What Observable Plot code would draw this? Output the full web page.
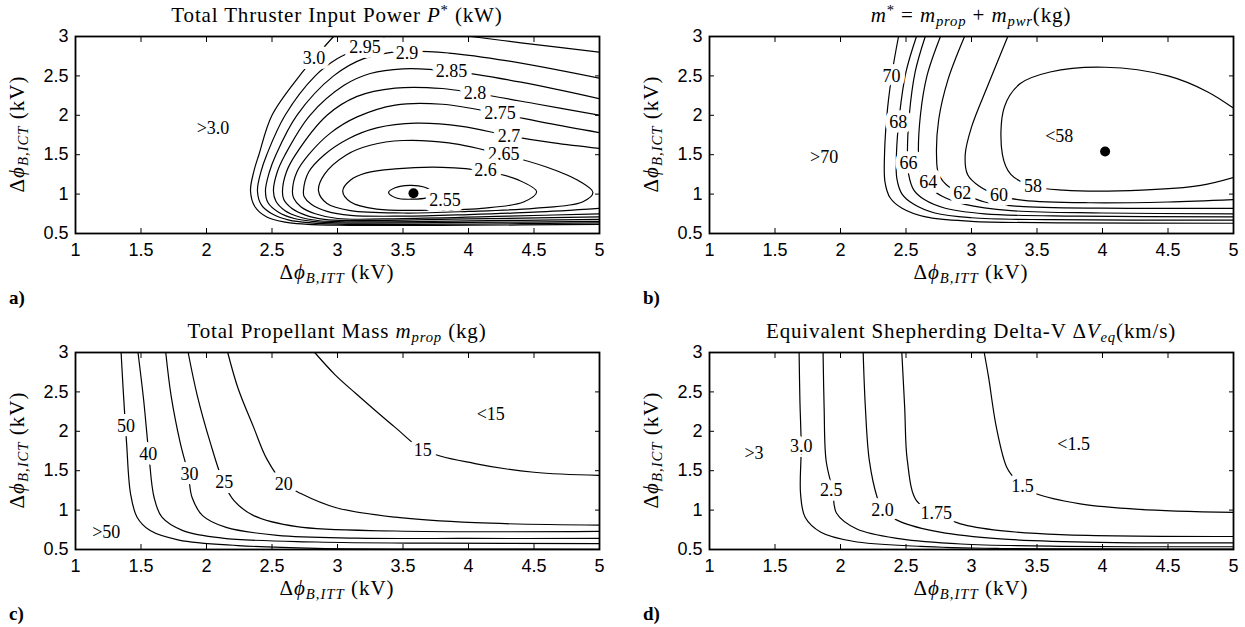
<!DOCTYPE html>
<html><head><meta charset="utf-8">
<script src="https://cdn.jsdelivr.net/npm/d3@7"></script>
<script src="https://cdn.jsdelivr.net/npm/@observablehq/plot@0.6"></script>
<style>
body{margin:0;background:#fff;}
#root{position:relative;width:1245px;height:627px;overflow:hidden;background:#fff;}
.panel{position:absolute;width:620px;height:311px;}
.panel svg{position:absolute;left:0;top:0;overflow:visible;}
.panel svg g[aria-label$="tick label"]{font-size:18px !important;font-family:"Liberation Sans",Arial,sans-serif;}
.title,.xlab,.ylab,.tag{position:absolute;font-family:"Liberation Serif","DejaVu Serif",serif;color:#000;white-space:nowrap;}
.title{left:55px;width:564px;top:3px;text-align:center;font-size:21px;line-height:24px;letter-spacing:0.85px;}
.xlab{left:75px;width:524px;top:260px;text-align:center;font-size:21px;line-height:24px;letter-spacing:1px;}
.ylab{left:-103px;top:122px;width:240px;text-align:center;font-size:21px;line-height:24px;letter-spacing:1px;transform:rotate(-90deg);}
.tag{left:9px;top:287px;font-size:19px;font-weight:bold;line-height:22px;}
sub{font-size:70%;vertical-align:-0.3em;line-height:0;}
sup{font-size:70%;vertical-align:0.45em;line-height:0;}
</style>
</head><body>
<div id="root"></div>
<script>
const xTicks = [1, 1.5, 2, 2.5, 3, 3.5, 4, 4.5, 5];
const yTicks = [0.5, 1, 1.5, 2, 2.5, 3];

// Panel a: total thruster input power P* (kW)
const powerOpen = [
  {level: "3.0", pts: [[5,0.615],[4,0.605],[3,0.605],[2.75,0.62],[2.6,0.645],[2.46,0.71],[2.37,0.84],[2.336,1.04],[2.36,1.28],[2.40,1.5],[2.50,2.0],[2.71,2.5],[2.82,2.72],[2.97,3.0]]},
  {level: "2.95", pts: [[5,0.635],[4,0.62],[3,0.62],[2.8,0.635],[2.63,0.67],[2.51,0.74],[2.42,0.86],[2.389,1.04],[2.415,1.28],[2.46,1.5],[2.60,2.0],[2.83,2.5],[3.0,2.72],[3.21,2.88],[3.36,3.0]]},
  {level: "2.95", pts: [[4.02,3.0],[4.4,2.92],[5,2.80]]},
  {level: "2.9", pts: [[5,0.655],[4,0.64],[3,0.635],[2.83,0.65],[2.67,0.69],[2.55,0.77],[2.47,0.89],[2.45,1.04],[2.48,1.28],[2.53,1.5],[2.69,2.0],[2.97,2.5],[3.2,2.72],[3.5,2.81],[3.85,2.79],[4.3,2.69],[5,2.47]]},
  {level: "2.85", pts: [[5,0.68],[4,0.66],[3,0.65],[2.85,0.665],[2.71,0.71],[2.6,0.79],[2.53,0.91],[2.511,1.04],[2.54,1.28],[2.60,1.5],[2.79,2.0],[3.05,2.38],[3.25,2.53],[3.5,2.59],[3.87,2.56],[4.4,2.42],[5,2.21]]},
  {level: "2.8", pts: [[5,0.71],[4,0.685],[3.1,0.665],[2.9,0.68],[2.76,0.73],[2.65,0.82],[2.59,0.93],[2.58,1.04],[2.61,1.28],[2.68,1.5],[2.92,2.0],[3.15,2.24],[3.44,2.345],[3.8,2.34],[4.05,2.28],[4.5,2.15],[5,2.0]]},
  {level: "2.75", pts: [[5,0.75],[4.3,0.72],[3.5,0.69],[3.0,0.69],[2.83,0.75],[2.72,0.84],[2.665,0.95],[2.656,1.04],[2.69,1.28],[2.78,1.5],[2.95,1.78],[3.15,1.98],[3.44,2.13],[3.8,2.14],[4.24,2.02],[4.6,1.90],[5,1.78]]},
  {level: "2.7", pts: [[5,0.82],[4.5,0.77],[4,0.74],[3.5,0.72],[3.1,0.73],[2.92,0.78],[2.8,0.87],[2.745,0.97],[2.74,1.04],[2.78,1.28],[2.90,1.5],[3.08,1.70],[3.3,1.84],[3.6,1.90],[3.95,1.86],[4.31,1.74],[4.65,1.65],[5,1.58]]}
];
const powerClosed = [
  {level: "2.65", pts: [[2.855,1.04],[2.90,1.25],[3.07,1.5],[3.25,1.62],[3.5,1.68],[3.85,1.65],[4.27,1.50],[4.6,1.34],[4.85,1.16],[4.95,1.02],[4.87,0.90],[4.5,0.82],[4.0,0.78],[3.5,0.76],[3.1,0.79],[2.92,0.88]]},
  {level: "2.6", pts: [[3.04,1.04],[3.10,1.18],[3.22,1.27],[3.44,1.32],[3.8,1.34],[4.13,1.29],[4.38,1.18],[4.52,1.03],[4.42,0.90],[4.1,0.82],[3.7,0.795],[3.3,0.81],[3.1,0.90]]},
  {level: "2.55", pts: [[3.39,1.02],[3.44,1.08],[3.55,1.11],[3.66,1.09],[3.73,1.02],[3.68,0.955],[3.56,0.935],[3.45,0.95]]}
];
const powerLabels = [
  {t:"3.0",x:2.82,y:2.72},{t:"2.95",x:3.21,y:2.86},{t:"2.9",x:3.53,y:2.79},{t:"2.85",x:3.87,y:2.56},
  {t:"2.8",x:4.05,y:2.28},{t:"2.75",x:4.24,y:2.02},{t:"2.7",x:4.31,y:1.74},{t:"2.65",x:4.27,y:1.50},
  {t:"2.6",x:4.13,y:1.30},{t:"2.55",x:3.82,y:0.92},{t:">3.0",x:2.05,y:1.83}
];
const powerOptimum = [{x:3.58,y:1.01}];

// Panel b: m* = m_prop + m_pwr (kg)
const massOpen = [
  {level:"70", pts:[[2.443,3.0],[2.40,2.6],[2.36,2.1],[2.336,1.5],[2.34,1.15],[2.38,0.95],[2.47,0.82],[2.65,0.71],[3.0,0.655],[3.7,0.635],[5,0.63]]},
  {level:"68", pts:[[2.58,3.0],[2.50,2.55],[2.45,2.0],[2.427,1.5],[2.43,1.2],[2.47,1.0],[2.56,0.87],[2.72,0.76],[3.0,0.70],[3.6,0.675],[5,0.67]]},
  {level:"66", pts:[[2.647,3.0],[2.57,2.55],[2.525,2.0],[2.511,1.5],[2.52,1.25],[2.56,1.05],[2.64,0.93],[2.8,0.82],[3.1,0.75],[3.8,0.72],[5,0.71]]},
  {level:"64", pts:[[2.763,3.0],[2.66,2.5],[2.61,2.0],[2.595,1.5],[2.61,1.25],[2.67,1.10],[2.78,0.97],[2.95,0.87],[3.3,0.79],[4,0.76],[5,0.75]]},
  {level:"62", pts:[[2.947,3.0],[2.82,2.45],[2.75,1.95],[2.733,1.5],[2.75,1.25],[2.83,1.09],[2.93,1.01],[3.1,0.90],[3.4,0.84],[4.2,0.82],[5,0.82]]},
  {level:"60", pts:[[3.277,3.0],[3.13,2.4],[3.0,1.85],[2.952,1.5],[2.97,1.25],[3.06,1.10],[3.21,0.98],[3.4,0.92],[3.9,0.89],[4.5,0.90],[5,0.93]]},
  {level:"58", pts:[[5,2.09],[4.8,2.3],[4.5,2.5],[4.02,2.61],[3.6,2.55],[3.37,2.4],[3.25,2.1],[3.236,1.5],[3.3,1.25],[3.47,1.10],[3.7,1.05],[4.3,1.05],[4.75,1.11],[5,1.21]]}
];
const massLabels = [
  {t:"70",x:2.39,y:2.49},{t:"68",x:2.44,y:1.91},{t:"66",x:2.52,y:1.39},{t:"64",x:2.67,y:1.15},
  {t:"62",x:2.93,y:1.01},{t:"60",x:3.21,y:0.98},{t:"58",x:3.47,y:1.10},{t:">70",x:1.875,y:1.47},{t:"<58",x:3.67,y:1.73}
];
const massOptimum = [{x:4.02,y:1.54}];

// Panel c: total propellant mass m_prop (kg)
const propOpen = [
  {level:"50", pts:[[1.348,3.0],[1.365,2.5],[1.39,1.85],[1.42,1.21],[1.47,0.91],[1.57,0.74],[1.79,0.62],[2.24,0.55],[2.84,0.515],[4,0.505],[5,0.503]]},
  {level:"40", pts:[[1.477,3.0],[1.52,2.4],[1.56,1.71],[1.60,1.16],[1.66,0.91],[1.82,0.74],[2.12,0.645],[2.84,0.595],[3.75,0.58],[5,0.575]]},
  {level:"30", pts:[[1.689,3.0],[1.73,2.45],[1.80,1.85],[1.86,1.46],[1.89,1.16],[1.97,0.93],[2.15,0.78],[2.54,0.68],[3.14,0.645],[4,0.64],[5,0.64]]},
  {level:"25", pts:[[1.860,3.0],[1.93,2.45],[2.03,1.85],[2.13,1.35],[2.21,1.12],[2.36,0.93],[2.69,0.79],[3.44,0.735],[5,0.73]]},
  {level:"20", pts:[[2.162,3.0],[2.24,2.55],[2.36,2.05],[2.46,1.65],[2.59,1.34],[2.72,1.21],[2.99,1.03],[3.44,0.91],[4.05,0.84],[5,0.81]]},
  {level:"15", pts:[[2.826,3.0],[2.98,2.72],[3.14,2.48],[3.44,2.05],[3.66,1.76],[4.05,1.59],[4.50,1.48],[5,1.44]]}
];
const propLabels = [
  {t:"50",x:1.385,y:2.07},{t:"40",x:1.556,y:1.71},{t:"30",x:1.87,y:1.46},{t:"25",x:2.135,y:1.35},
  {t:"20",x:2.59,y:1.33},{t:"15",x:3.65,y:1.76},{t:"<15",x:4.17,y:2.22},{t:">50",x:1.235,y:0.72}
];

// Panel d: equivalent shepherding delta-V (km/s)
const dvOpen = [
  {level:"3.0", pts:[[1.684,3.0],[1.69,2.4],[1.70,1.80],[1.695,1.21],[1.73,0.91],[1.85,0.72],[2.095,0.605],[2.61,0.54],[3.22,0.513],[4,0.507],[5,0.505]]},
  {level:"2.5", pts:[[1.867,3.0],[1.875,2.3],[1.89,1.63],[1.94,1.25],[1.97,0.96],[2.125,0.76],[2.46,0.635],[2.92,0.57],[3.68,0.54],[5,0.535]]},
  {level:"2.0", pts:[[2.173,3.0],[2.19,2.3],[2.22,1.63],[2.28,1.16],[2.32,1.00],[2.46,0.85],[2.76,0.72],[3.22,0.635],[3.98,0.59],[5,0.585]]},
  {level:"1.75", pts:[[2.468,3.0],[2.49,2.3],[2.51,1.63],[2.58,1.12],[2.73,0.96],[2.916,0.826],[3.22,0.74],[3.68,0.69],[5,0.665]]},
  {level:"1.5", pts:[[3.097,3.0],[3.13,2.69],[3.19,2.05],[3.27,1.54],[3.34,1.38],[3.39,1.31],[3.49,1.21],[3.83,1.08],[4.28,1.01],[5,0.97]]}
];
const dvLabels = [
  {t:"3.0",x:1.70,y:1.81},{t:"2.5",x:1.93,y:1.25},{t:"2.0",x:2.32,y:0.995},{t:"1.75",x:2.73,y:0.96},
  {t:"1.5",x:3.39,y:1.30},{t:">3",x:1.34,y:1.72},{t:"<1.5",x:3.78,y:1.84}
];

const xLabelHTML = 'Δ<i>ϕ</i><sub><i>B,ITT</i></sub> (kV)';
const yLabelHTML = 'Δ<i>ϕ</i><sub><i>B,ICT</i></sub> (kV)';

const panels = [
  {left:0, top:0, tag:"a)", title:'Total Thruster Input Power <i>P</i><sup>*</sup> (kW)', open:powerOpen, closed:powerClosed, labels:powerLabels, dots:powerOptimum},
  {left:634, top:0, tag:"b)", title:'<i>m</i><sup>*</sup> = <i>m</i><sub><i>prop</i></sub> + <i>m</i><sub><i>pwr</i></sub>(kg)', open:massOpen, closed:[], labels:massLabels, dots:massOptimum},
  {left:0, top:316, tag:"c)", title:'Total Propellant Mass <i>m</i><sub><i>prop</i></sub> (kg)', open:propOpen, closed:[], labels:propLabels, dots:[]},
  {left:634, top:316, tag:"d)", title:'Equivalent Shepherding Delta-V Δ<i>V</i><sub><i>eq</i></sub>(km/s)', open:dvOpen, closed:[], labels:dvLabels, dots:[]}
];

function rows(contours) {
  const out = [];
  contours.forEach((c, i) => c.pts.forEach(([x, y]) => out.push({id: i, level: c.level, x, y})));
  return out;
}

const root = document.getElementById("root");
for (const p of panels) {
  const div = document.createElement("div");
  div.className = "panel";
  div.style.left = p.left + "px";
  div.style.top = p.top + "px";
  const svg = Plot.plot({
    width: 620, height: 260,
    marginLeft: 75, marginRight: 21, marginTop: 36, marginBottom: 27,
    x: {domain: [1, 5]},
    y: {domain: [0.5, 3]},
    style: {fontFamily: "'Liberation Sans', Arial, sans-serif", fontSize: "18px", color: "#000", background: "transparent"},
    marks: [
      Plot.line(rows(p.open), {x: "x", y: "y", z: "id", curve: "catmull-rom", stroke: "#000", strokeWidth: 1.2, clip: true}),
      Plot.line(rows(p.closed), {x: "x", y: "y", z: "id", curve: "catmull-rom-closed", stroke: "#000", strokeWidth: 1.2, clip: true}),
      Plot.text(p.labels, {x: "x", y: "y", text: "t", fontFamily: "'Liberation Serif', serif", fontSize: 18, fill: "#000", stroke: "#fff", strokeWidth: 10, strokeLinejoin: "round", paintOrder: "stroke"}),
      Plot.dot(p.dots, {x: "x", y: "y", r: 5, fill: "#000", stroke: "none"}),
      Plot.axisX({ticks: xTicks, tickSize: -5, tickPadding: 15, tickFormat: d => String(d), label: null, fontSize: 18}),
      Plot.axisX({ticks: xTicks, anchor: "top", tickSize: -5, tickFormat: () => "", label: null}),
      Plot.axisY({ticks: yTicks, tickSize: -5, tickPadding: 12, tickFormat: d => String(d), label: null, fontSize: 18}),
      Plot.axisY({ticks: yTicks, anchor: "right", tickSize: -5, tickFormat: () => "", label: null}),
      Plot.frame({stroke: "#000", strokeWidth: 1.8})
    ]
  });
  div.appendChild(svg);
  const t = document.createElement("div"); t.className = "title"; t.innerHTML = p.title; div.appendChild(t);
  const xl = document.createElement("div"); xl.className = "xlab"; xl.innerHTML = xLabelHTML; div.appendChild(xl);
  const yl = document.createElement("div"); yl.className = "ylab"; yl.innerHTML = yLabelHTML; div.appendChild(yl);
  const tg = document.createElement("div"); tg.className = "tag"; tg.textContent = p.tag; div.appendChild(tg);
  root.appendChild(div);
}
</script>
</body></html>
